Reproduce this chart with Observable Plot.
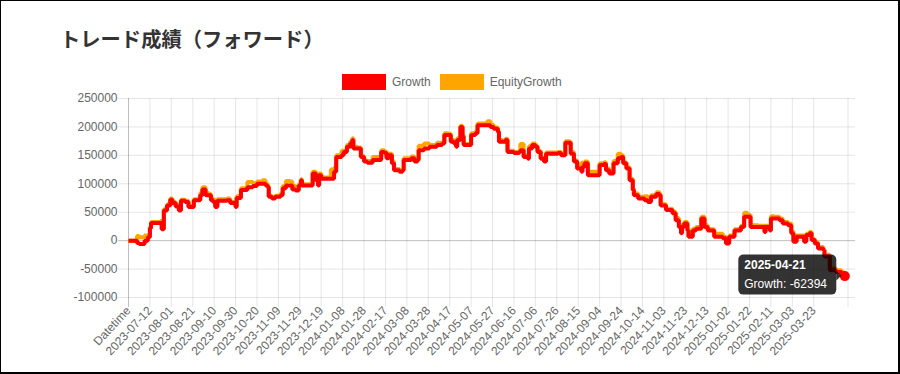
<!DOCTYPE html>
<html>
<head>
<meta charset="utf-8">
<script src="https://cdn.jsdelivr.net/npm/d3@7"></script>
<script src="https://cdn.jsdelivr.net/npm/@observablehq/plot@0.6"></script>
<style>
html,body{margin:0;padding:0;background:#fff;}
#page{position:relative;width:900px;height:374px;overflow:hidden;background:#fff;font-family:"Liberation Sans",Arial,Helvetica,sans-serif;}
#frame{position:absolute;left:0;top:0;width:900px;height:374px;box-sizing:border-box;border-style:solid;border-color:#000;border-width:1px 2px 2px 1px;pointer-events:none;z-index:5;}
#header{position:relative;height:90px;}
#title{position:absolute;left:60px;top:26px;font-family:"Noto Sans CJK JP",sans-serif;font-weight:bold;font-size:20.3px;line-height:24px;color:#333;margin:0;white-space:nowrap;}
#legend{position:absolute;left:342px;top:74px;height:16px;display:flex;align-items:center;}
.sw{width:44px;height:16px;margin-right:6px;}
.lt{line-height:16px;font-size:12px;color:#666;margin-right:9px;white-space:nowrap;}
#chart svg{display:block;}
</style>
</head>
<body>
<div id="page">
  <div id="header">
    <div id="title"></div>
    <div id="legend"></div>
  </div>
  <div id="chart"></div>
  <div id="frame"></div>
</div>
<script>
const chartTitle = "トレード成績（フォワード）";
const seriesNames = ["Growth", "EquityGrowth"];
const seriesColors = ["#ff0000", "#ffa500"];

const dates = [
"2023-06-22","2023-06-30","2023-07-02","2023-07-07","2023-07-10","2023-07-12","2023-07-13","2023-07-22","2023-07-23","2023-07-25",
"2023-07-28","2023-07-31","2023-08-02","2023-08-05","2023-08-08","2023-08-10","2023-08-14","2023-08-17","2023-08-21","2023-08-22",
"2023-08-27","2023-08-28","2023-08-30","2023-09-02","2023-09-05","2023-09-07","2023-09-09","2023-09-11","2023-09-13","2023-09-22",
"2023-09-25","2023-09-30","2023-10-01","2023-10-05","2023-10-11","2023-10-16","2023-10-20","2023-10-25","2023-10-28","2023-10-30",
"2023-10-31","2023-11-03","2023-11-06","2023-11-11","2023-11-13","2023-11-16","2023-11-20","2023-11-22","2023-11-25","2023-11-28",
"2023-11-30","2023-12-01","2023-12-09","2023-12-11","2023-12-14","2023-12-16","2023-12-17","2023-12-19","2023-12-28","2023-12-31",
"2024-01-02","2024-01-07","2024-01-09","2024-01-12","2024-01-15","2024-01-17","2024-01-18","2024-01-22","2024-01-25","2024-01-28",
"2024-01-31","2024-02-05","2024-02-11","2024-02-13","2024-02-16","2024-02-18","2024-02-20","2024-02-23","2024-02-25","2024-03-01",
"2024-03-04","2024-03-05","2024-03-12","2024-03-15","2024-03-18","2024-03-19","2024-03-24","2024-03-29","2024-04-05","2024-04-10",
"2024-04-12","2024-04-16","2024-04-18","2024-04-21","2024-04-23","2024-04-24","2024-04-27","2024-04-29","2024-04-30","2024-05-05",
"2024-05-07","2024-05-11","2024-05-13","2024-05-22","2024-05-25","2024-05-28","2024-06-01","2024-06-02","2024-06-05","2024-06-08",
"2024-06-10","2024-06-16","2024-06-21","2024-06-22","2024-06-25","2024-06-29","2024-06-30","2024-07-03","2024-07-06","2024-07-08",
"2024-07-11","2024-07-14","2024-07-16","2024-07-27","2024-07-30","2024-08-03","2024-08-07","2024-08-08","2024-08-11","2024-08-14",
"2024-08-18","2024-08-19","2024-08-21","2024-08-24","2024-08-27","2024-09-02","2024-09-04","2024-09-08","2024-09-10","2024-09-13",
"2024-09-16","2024-09-17","2024-09-21","2024-09-24","2024-09-26","2024-09-29","2024-10-02","2024-10-05","2024-10-06","2024-10-10",
"2024-10-16","2024-10-19","2024-10-22","2024-10-27","2024-10-30","2024-10-31","2024-11-05","2024-11-11","2024-11-14","2024-11-17",
"2024-11-19","2024-11-20","2024-11-22","2024-11-25","2024-11-26","2024-11-28","2024-11-30","2024-12-03","2024-12-08","2024-12-11",
"2024-12-14","2024-12-17","2024-12-20","2024-12-24","2024-12-28","2024-12-31","2025-01-01","2025-01-03","2025-01-08","2025-01-14",
"2025-01-17","2025-01-20","2025-01-23","2025-01-30","2025-02-03","2025-02-05","2025-02-06","2025-02-10","2025-02-11","2025-02-14",
"2025-02-19","2025-02-22","2025-02-27","2025-03-02","2025-03-04","2025-03-07","2025-03-11","2025-03-14","2025-03-16","2025-03-19",
"2025-03-21","2025-03-24","2025-03-27","2025-04-01","2025-04-02","2025-04-07","2025-04-10","2025-04-13","2025-04-18","2025-04-21"
];

const growth = [
0,-4000,-6000,0,6000,22000,31000,31000,20000,53000,
62000,72000,66000,60000,53000,70000,68000,59000,59000,71000,
71000,80000,90000,80000,80000,71000,68000,59000,70000,71000,
66000,59000,75000,89000,94000,96000,100000,100000,97000,94000,
77000,74000,77000,80000,92000,97000,97000,90000,88000,97000,
106000,97000,97000,118000,106000,97000,115000,109000,109000,121000,
147000,150000,156000,165000,171000,177000,162000,162000,147000,139000,
137000,142000,142000,156000,154000,145000,150000,136000,124000,121000,
124000,142000,145000,139000,142000,159000,162000,165000,168000,171000,
186000,186000,174000,171000,165000,177000,200000,183000,168000,168000,
186000,189000,203000,203000,200000,197000,191000,174000,174000,177000,
156000,154000,156000,159000,147000,144000,162000,168000,165000,156000,
144000,139000,153000,154000,150000,172000,172000,153000,139000,127000,
121000,130000,136000,115000,115000,115000,133000,135000,124000,118000,
118000,136000,145000,147000,136000,127000,106000,89000,80000,74000,
71000,68000,77000,82000,80000,62000,54000,48000,36000,24000,
13000,24000,30000,18000,7000,7000,18000,21000,39000,24000,
18000,18000,7000,7000,4000,-5000,-5000,7000,18000,24000,
42000,42000,24000,24000,24000,15000,24000,18000,39000,39000,
36000,30000,27000,13000,-2000,7000,7000,-2000,10000,13000,
1000,-5000,-14000,-17000,-28000,-52000,-52000,-55000,-58000,-62394
];

const equityGrowth = [
0,8000,6000,9000,10000,24000,33000,35000,22000,55000,
64000,74000,68000,63000,56000,72000,70000,61000,61000,73000,
74000,84000,94000,84000,82000,74000,72000,63000,73000,74000,
68000,61000,78000,92000,103000,101000,104000,106000,100000,96000,
79000,76000,79000,83000,96000,105000,104000,96000,91000,99000,
108000,99000,99000,121000,108000,99000,118000,111000,125000,128000,
150000,158000,158000,168000,174000,180000,165000,164000,149000,141000,
140000,147000,147000,159000,157000,147000,153000,139000,126000,123000,
126000,145000,148000,142000,145000,167000,171000,168000,172000,173000,
189000,188000,177000,173000,168000,180000,202000,186000,170000,170000,
189000,192000,206000,210000,204000,199000,193000,177000,176000,179000,
158000,156000,158000,170000,150000,146000,166000,171000,167000,158000,
146000,141000,155000,156000,152000,175000,174000,156000,141000,131000,
137000,137000,139000,121000,121000,117000,136000,138000,127000,120000,
120000,140000,153000,150000,138000,129000,109000,92000,83000,77000,
78000,70000,80000,85000,82000,64000,56000,51000,40000,27000,
16000,27000,33000,21000,9000,9000,21000,24000,42000,27000,
20000,20000,12000,12000,7000,-3000,-3000,9000,20000,26000,
49000,45000,27000,26000,26000,17000,26000,21000,43000,42000,
39000,33000,30000,16000,0,9000,9000,1000,12000,15000,
3000,-3000,-11000,-15000,-25000,-48000,-49000,-52000,-56000,-61000
];

const xTickLabels = ["Datetime","2023-07-12","2023-08-01","2023-08-21","2023-09-10","2023-09-30","2023-10-20","2023-11-09","2023-11-29","2023-12-19","2024-01-08","2024-01-28","2024-02-17","2024-03-08","2024-03-28","2024-04-17","2024-05-07","2024-05-27","2024-06-16","2024-07-06","2024-07-26","2024-08-15","2024-09-04","2024-09-24","2024-10-14","2024-11-03","2024-11-23","2024-12-13","2025-01-02","2025-01-22","2025-02-11","2025-03-03","2025-03-23"];
const extraGridDate = "2025-04-24";
const xDomainEnd = "2025-05-01";
const yTicks = [-100000,-50000,0,50000,100000,150000,200000,250000];

document.getElementById("title").textContent = chartTitle;
const legend = document.getElementById("legend");
seriesNames.forEach((name, i) => {
  const sw = document.createElement("div");
  sw.className = "sw"; sw.style.background = seriesColors[i];
  const t = document.createElement("div");
  t.className = "lt"; t.textContent = name;
  legend.appendChild(sw); legend.appendChild(t);
});

const parse = d3.utcParse("%Y-%m-%d");
const data = dates.map((d, i) => ({date: parse(d), growth: growth[i], equity: equityGrowth[i], label: d}));
const tickDates = xTickLabels.map(l => l === "Datetime" ? parse(dates[0]) : parse(l));
const labelMap = new Map(tickDates.map((d, i) => [+d, xTickLabels[i]]));
const gridDates = [...tickDates.slice(1), parse(extraGridDate)];
const last = data[data.length - 1];

function tooltipMark(index, scales) {
  const px = scales.x(last.date), py = scales.y(last.growth);
  const g = d3.create("svg:g").attr("text-anchor", "start");
  const left = px - 106, top = py - 21, w = 98, h = 40;
  g.append("rect").attr("x", left).attr("y", top).attr("width", w).attr("height", h)
    .attr("rx", 5).attr("fill", "rgba(0,0,0,0.8)");
  g.append("path").attr("d", `M${left + w},${py - 5}L${left + w + 5},${py}L${left + w},${py + 5}Z`)
    .attr("fill", "rgba(0,0,0,0.8)");
  g.append("text").attr("x", left + 6).attr("y", top + 14).attr("fill", "#fff")
    .attr("text-anchor", "start").attr("font-weight", "bold").attr("font-size", 12)
    .attr("font-family", "'Liberation Sans', Arial, sans-serif").text(last.label);
  g.append("text").attr("x", left + 6).attr("y", top + 33).attr("fill", "#fff")
    .attr("text-anchor", "start").attr("font-size", 12)
    .attr("font-family", "'Liberation Sans', Arial, sans-serif")
    .text(`${seriesNames[0]}: ${last.growth}`);
  return g.node();
}

const plot = Plot.plot({
  width: 900,
  height: 284,
  marginTop: 8,
  marginBottom: 77,
  marginLeft: 128,
  marginRight: 45,
  style: {fontFamily: "'Liberation Sans', Arial, Helvetica, sans-serif", fontSize: "12px", color: "#666", background: "transparent"},
  x: {type: "utc", domain: [parse(dates[0]), parse(xDomainEnd)]},
  y: {domain: [yTicks[0], yTicks[yTicks.length - 1]]},
  marks: [
    Plot.ruleY(yTicks.filter(v => v !== 0), {stroke: "#000", strokeOpacity: 0.1, insetLeft: -10}),
    Plot.ruleX(gridDates, {stroke: "#000", strokeOpacity: 0.1, insetBottom: -10}),
    Plot.ruleY([0], {stroke: "#000", strokeOpacity: 0.25, insetLeft: -10}),
    Plot.ruleX([tickDates[0]], {stroke: "#000", strokeOpacity: 0.25, insetBottom: -10}),
    Plot.axisY({ticks: yTicks, tickSize: 0, tickPadding: 11, tickFormat: d => String(d), label: null}),
    Plot.axisX({ticks: tickDates, tickSize: 0, tickPadding: 11, tickRotate: -47, tickFormat: d => labelMap.get(+d), label: null}),
    Plot.line(data, {x: "date", y: "equity", curve: "step-after", stroke: seriesColors[1], strokeWidth: 4, strokeLinejoin: "miter", strokeLinecap: "butt"}),
    Plot.line(data, {x: "date", y: "growth", curve: "step-after", stroke: seriesColors[0], strokeWidth: 4, strokeLinejoin: "miter", strokeLinecap: "butt"}),
    Plot.dot([last], {x: "date", y: "growth", r: 5, fill: seriesColors[0]}),
    tooltipMark
  ]
});
document.getElementById("chart").appendChild(plot);
</script>
</body>
</html>
